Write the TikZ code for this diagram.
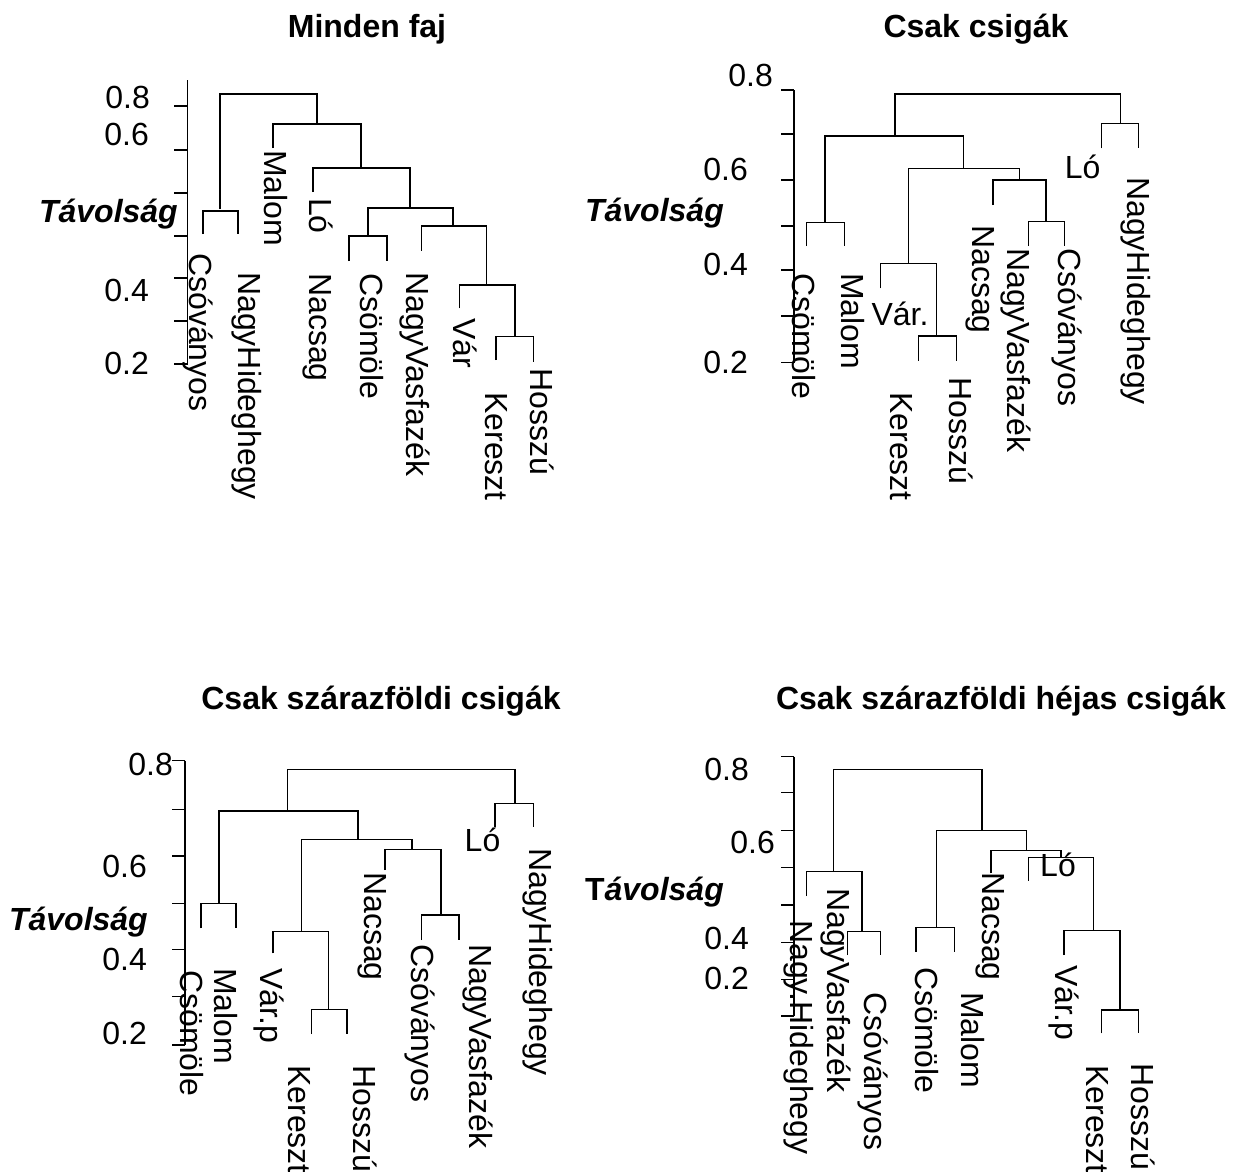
\documentclass[tikz,border=0pt]{standalone}
\usepackage{fontspec}
\setmainfont{Liberation Sans}
\usepackage{tikz}
\usetikzlibrary{positioning}

\tikzset{
  every node/.style={inner sep=0pt, font=\fontsize{32}{38}\selectfont},
  leaf/.style={rotate=-90, anchor=base west},
  flat/.style={anchor=base},
  ticklab/.style={anchor=east},
  ylab/.style={anchor=east, font=\fontsize{32}{38}\selectfont\bfseries\itshape},
  ttl/.style={font=\fontsize{32}{38}\selectfont\bfseries},
  branch/.style={line width=1.5pt}
}

\begin{document}
\begin{tikzpicture}[x=1pt, y=-1pt]
\useasboundingbox (0,0) rectangle (1240,1171);

% titles
\node[ttl] (t1) at (367,29) {Minden faj};
\node[ttl] (t2) at (976,29) {Csak csigák};
\node[ttl] (t3) at (381,701) {Csak szárazföldi csigák};
\node[ttl] (t4) at (1001,701) {Csak szárazföldi héjas csigák};

% axes
\draw[branch] (187.7,80) -- (187.7,364);
\foreach \t in {106,150,193,236,278,321,364}
    \draw[branch] (174.3,\t) -- (187.7,\t);
\draw[branch] (794,90) -- (794,362.7);
\foreach \t in {90,134,180,226,270,316,362.7}
    \draw[branch] (781,\t) -- (794,\t);
\draw[branch] (185,760.7) -- (185,1045);
\foreach \t in {760.7,809.3,856,903.3,949.3,996.7,1045}
    \draw[branch] (172,\t) -- (185,\t);
\draw[branch] (794,756.7) -- (794,1016);
\foreach \t in {756.7,792.7,830.7,867.3,905,942.7,979.3,1016}
    \draw[branch] (781,\t) -- (794,\t);

\foreach \n/\x/\y/\m in {
    a8/150/97/0.8, a6/149/134/0.6, a4/149/290/0.4, a2/149/363/0.2,
    b8/773/75/0.8, b6/748/169/0.6, b4/748/264/0.4, b2/748/362/0.2,
    c8/173/764/0.8, c6/147/866/0.6, c4/147/959/0.4, c2/147/1033/0.2,
    d8/749/769/0.8, d6/775/842/0.6, d4/749/938/0.4, d2/749/978/0.2}
    \node[ticklab] (\n) at (\x,\y) {\m};

\node[ylab] (ya) at (178,214) {Távolság};
\node[ylab] (yb) at (724,213) {Távolság};
\node[ylab] (yc) at (148,922) {Távolság};
\node[ylab] (yd) at (724,892) {\upshape T\itshape ávolság};

% dendrograms: left x / right x / height / left leg end / right leg end
\foreach \a/\b/\h/\l/\r in {
    220/317/94/209/123, 203/238/211/234/234,
    273/361/124/148/168, 313/410/168/192/208,
    368/453/208/236/225, 349/387/236/261/261,
    421.7/486.7/226/250.7/284, 459.3/515/285/308.3/336.7,
    496/533.3/336.7/360/361.7,
    895/1120.7/94/136/123.3, 1101.7/1138.3/123.3/148.3/148.3,
    825/963.3/136/222.7/168.3, 806.7/844.3/222.7/246/246,
    908.3/1019.3/168.3/263.3/180, 880.7/936.7/263.3/288.3/336,
    918.3/956.3/336/360.7/360.7, 993/1046/180/205/221.7,
    1028.3/1064.3/221.7/246/246,
    287.6/515/769.3/811/803.3, 495/533.3/803.3/826.7/826.7,
    218.8/358/811/903.3/839.3, 200.9/235.9/903.3/928.3/928.3,
    301.5/412/839.3/931.7/849.3, 272.9/328.5/931.7/953.3/1009.3,
    311.4/347.2/1009.3/1034/1034, 385/441/849.3/870/915,
    421.7/459/915/940/940,
    833.4/981.8/769.3/871.7/830.7, 806.7/862.1/871.7/896/931.7,
    847.7/880.5/931.7/955/955, 936.7/1026.7/830.7/927.3/850.7,
    916.2/954.4/927.3/951.7/951.7, 990.9/1061/850.7/873.3/857.3,
    1028.3/1093.3/857.3/880.7/930.7, 1064/1120/930.7/955/1010,
    1101.7/1138.3/1010/1033.3/1033.3}
    \draw[branch] (\a,\l) |- (\b,\h) -- (\b,\r);

% leaf labels
\foreach \n/\x/\y/\m in {
    acsov/189.5/253/Csóványos, anagyh/238/272/NagyHideghegy,
    amalom/264.5/150/Malom, alo/309.5/198/Ló, anacs/309.5/273/Nacsag,
    acsom/360.5/273/Csömöle, anagyv/406.8/272/NagyVasfazék,
    avar/453.5/318/Vár, aker/485.5/392/Kereszt, ahossz/530.5/368/Hosszú,
    bcsom/792.5/273/Csömöle, bmalom/841.5/273/Malom,
    bker/890.5/392/Kereszt, bhossz/949.5/377/Hosszú,
    bnacs/972.5/225/Nacsag, bnagyv/1007.5/248/NagyVasfazék,
    bcsov/1058.5/248/Csóványos, bnagyh/1127.5/177/NagyHideghegy,
    ccsom/180.5/970/Csömöle, cmalom/214.5/968/Malom,
    cvar/260.5/968/Vár.p, cker/288.5/1065/Kereszt,
    chossz/353.5/1065/Hosszú, cnacs/364.5/872/Nacsag,
    ccsov/411.5/944/Csóványos, cnagyv/469.5/944/NagyVasfazék,
    cnagyh/529.5/848/NagyHideghegy,
    dnagyh/790/920/Nagy.Hideghegy, dnagyv/827/888/NagyVasfazék,
    dcsov/864/992/Csóványos, dcsom/915/967/Csömöle,
    dmalom/961/992/Malom, dnacs/982.5/872/Nacsag,
    dvar/1055/965/Vár.p, dker/1086.5/1065/Kereszt,
    dhossz/1131.5/1063/Hosszú}
    \node[leaf] (\n) at (\x,\y) {\m};

\node[flat] (bvar) at (900,325) {Vár.};
\node[flat] (blo) at (1082.7,178.3) {Ló};
\node[flat] (clo) at (482.5,851.7) {Ló};
\node[flat] (dlo) at (1058,876) {Ló};

\end{tikzpicture}
\end{document}
